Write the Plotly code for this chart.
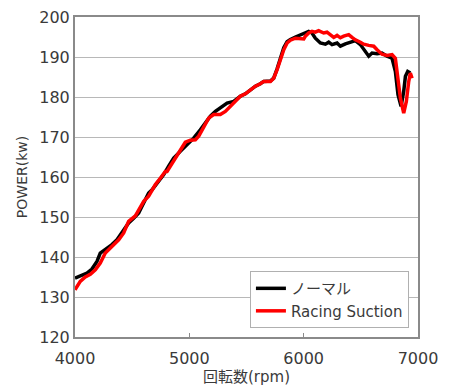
import plotly.graph_objects as go

normal_rpm = [4000, 4046, 4105, 4148, 4192, 4221, 4265, 4323, 4367, 4411, 4469, 4513, 4557, 4586,
              4615, 4644, 4674, 4717, 4776, 4819, 4863, 4921, 4980, 5038, 5096, 5140, 5184, 5228,
              5271, 5330, 5388, 5446, 5490, 5534, 5578, 5621, 5651, 5709, 5738, 5767, 5796, 5826,
              5855, 5884, 5928, 5971, 6015, 6044, 6073, 6102, 6146, 6190, 6219, 6248, 6292, 6321,
              6365, 6408, 6452, 6496, 6540, 6569, 6598, 6642, 6685, 6729, 6773, 6802, 6825, 6852,
              6875, 6890, 6910, 6933]
normal_kw = [134.7, 135.3, 136.0, 137.0, 138.9, 141.0, 141.8, 143.1, 144.3, 146.0, 148.5, 149.7, 151.0, 152.7,
             154.3, 156.0, 156.8, 158.5, 160.6, 162.7, 164.7, 166.4, 168.1, 169.7, 171.8, 173.5, 175.2, 176.4,
             177.2, 178.5, 178.9, 180.2, 180.8, 181.8, 182.7, 183.3, 183.9, 184.0, 184.7, 187.0, 189.8, 192.3,
             193.8, 194.4, 195.0, 195.6, 196.0, 196.4, 196.0, 194.7, 193.5, 193.2, 193.7, 193.1, 193.5, 192.7,
             193.3, 193.7, 194.1, 193.1, 191.4, 190.2, 191.0, 190.8, 191.0, 190.2, 189.7, 186.4, 180.6, 177.7,
             181.4, 185.2, 186.4, 186.0]

racing_rpm = [4000, 4046, 4090, 4134, 4178, 4221, 4265, 4323, 4382, 4426, 4469, 4528, 4571, 4601,
              4644, 4674, 4703, 4746, 4790, 4805, 4849, 4892, 4936, 4965, 5009, 5053, 5082, 5126,
              5169, 5213, 5271, 5315, 5359, 5403, 5446, 5490, 5534, 5578, 5621, 5651, 5709, 5738,
              5767, 5796, 5826, 5855, 5884, 5928, 5971, 6001, 6015, 6044, 6073, 6102, 6131, 6175,
              6204, 6233, 6263, 6292, 6321, 6350, 6394, 6423, 6452, 6496, 6525, 6569, 6613, 6642,
              6685, 6729, 6773, 6802, 6823, 6846, 6875, 6898, 6919, 6933, 6948]
racing_kw = [131.8, 133.9, 135.0, 135.7, 136.8, 138.5, 141.0, 142.7, 144.3, 146.0, 148.9, 150.3, 152.7, 153.9,
             155.2, 156.8, 158.1, 159.7, 161.4, 161.4, 163.5, 165.6, 167.7, 168.7, 169.2, 169.3, 170.2, 172.7,
             174.7, 175.6, 175.6, 176.4, 177.7, 179.0, 180.2, 180.8, 181.8, 182.7, 183.3, 183.9, 183.9, 184.7,
             186.8, 189.3, 191.8, 193.5, 194.2, 194.7, 194.7, 194.5, 195.2, 196.0, 196.4, 196.2, 196.6, 196.0,
             196.2, 195.6, 194.9, 195.4, 194.8, 195.2, 195.6, 194.9, 194.3, 193.7, 193.2, 192.9, 192.7, 191.8,
             190.7, 190.4, 190.6, 189.7, 185.6, 179.7, 176.0, 178.9, 183.9, 186.0, 184.7]

x_ticks = [4000, 5000, 6000, 7000]
y_ticks = [120, 130, 140, 150, 160, 170, 180, 190, 200]

FONT = "DejaVu Sans, Noto Sans CJK JP, sans-serif"
TXT = "#3a3a3a"

fig = go.Figure()
fig.add_trace(go.Scatter(x=normal_rpm, y=normal_kw, mode="lines", name="ノーマル",
                         line=dict(color="#000000", width=3.5)))
fig.add_trace(go.Scatter(x=racing_rpm, y=racing_kw, mode="lines", name="Racing Suction",
                         line=dict(color="#ff0000", width=3.5)))

fig.update_layout(
    width=450, height=387,
    margin=dict(l=75, r=32, t=17, b=50),
    paper_bgcolor="white", plot_bgcolor="white",
    font=dict(family=FONT, color=TXT, size=15),
    legend=dict(x=0.51, y=0.206, xanchor="left", yanchor="top",
                bgcolor="white", bordercolor="#b0b0b0", borderwidth=1,
                font=dict(size=15, color=TXT), tracegroupgap=0, itemwidth=30),
    xaxis=dict(range=[4000, 7000], tickvals=x_ticks, ticktext=[str(v) for v in x_ticks],
               showgrid=False, showline=True, linecolor="#8a8a8a", linewidth=2, mirror=True,
               ticks="inside", ticklen=4, tickcolor="#8a8a8a", automargin=False,
               ticklabelstandoff=6,
               title=dict(text="回転数(rpm)", font=dict(size=15, color=TXT), standoff=2),
               tickfont=dict(size=16, color=TXT), zeroline=False),
    yaxis=dict(range=[120, 200], tickvals=y_ticks, ticktext=[str(v) for v in y_ticks],
               showgrid=True, gridcolor="#b8b8b8", gridwidth=1,
               showline=True, linecolor="#8a8a8a", linewidth=2, mirror=True, automargin=False,
               ticks="", title=dict(text="POWER(kw)", font=dict(size=14, color=TXT), standoff=8),
               tickfont=dict(size=16, color=TXT), zeroline=False),
)

fig.write_html("out.html", config={"displayModeBar": False},
               post_script="document.body.style.margin='0px';")
